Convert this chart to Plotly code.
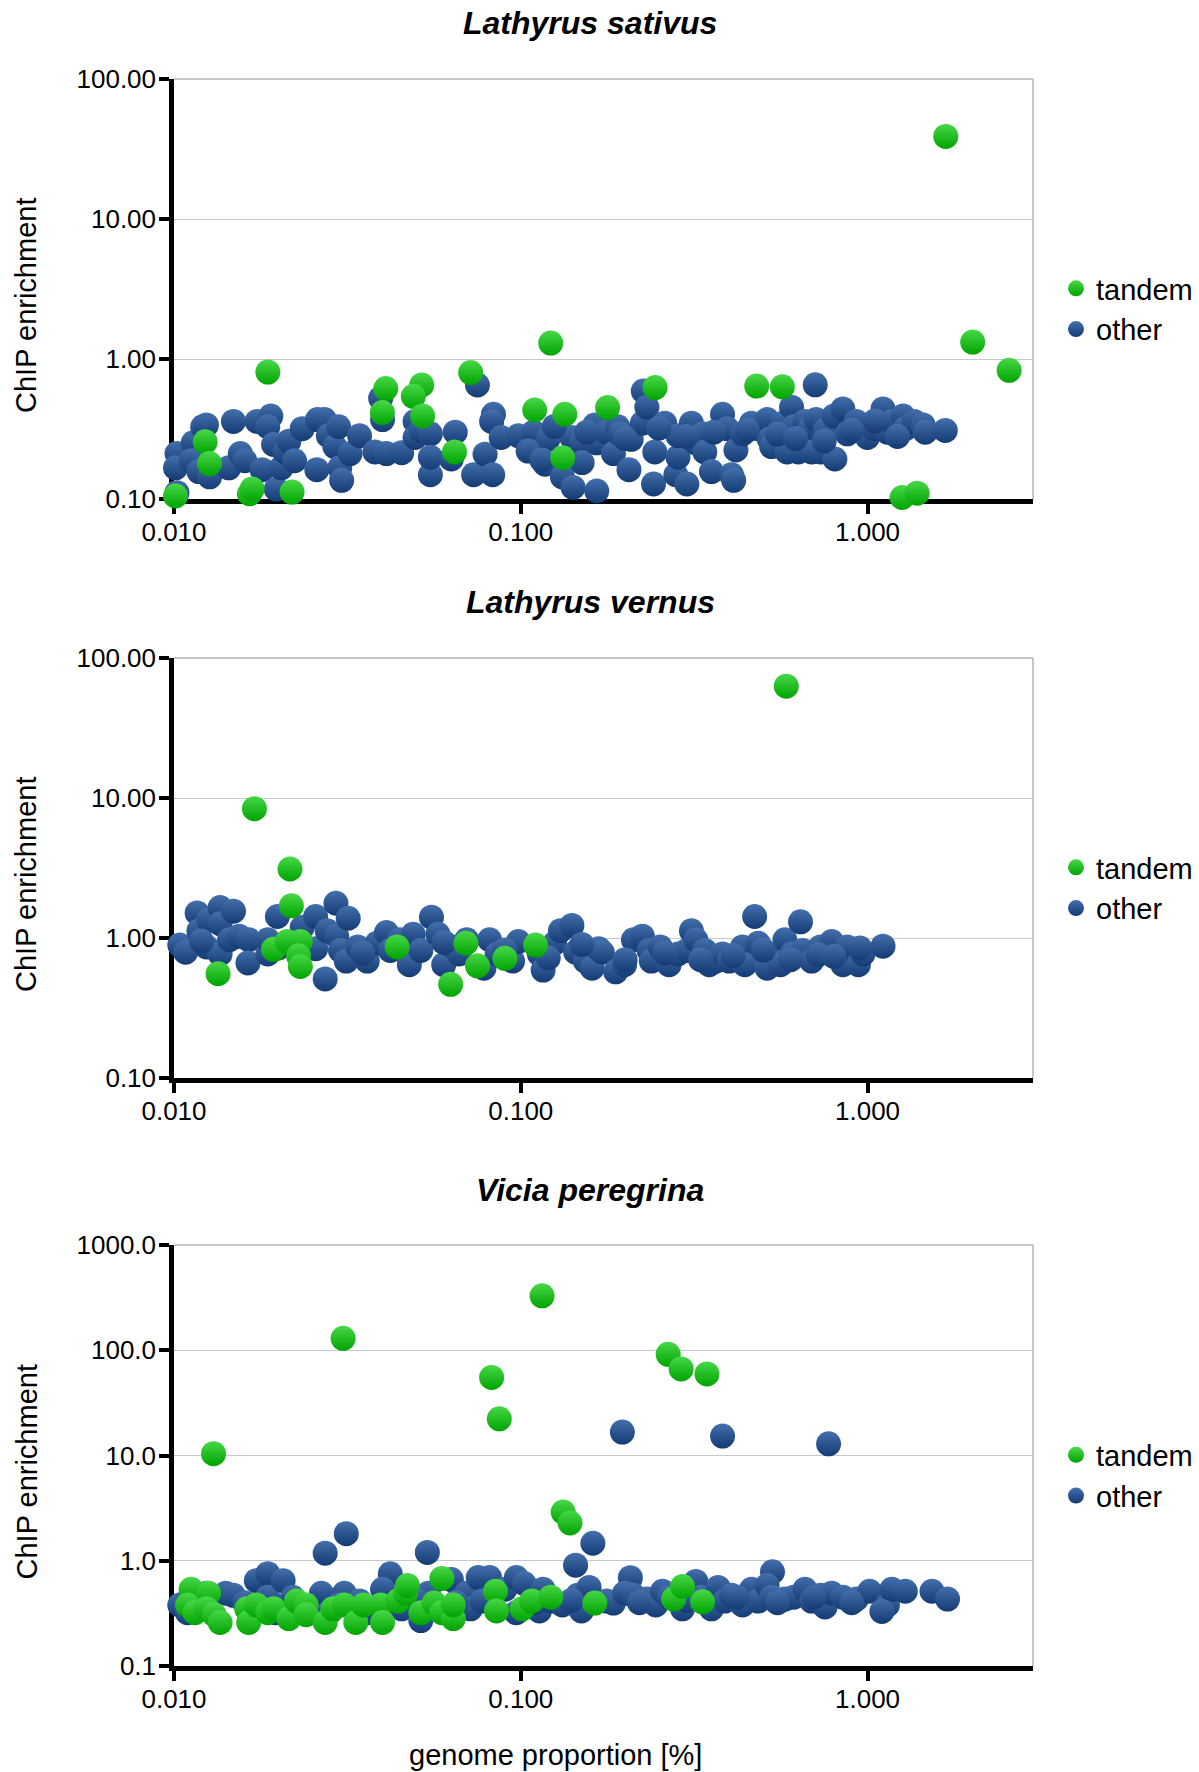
import math
import plotly.graph_objects as go

W, H = 1199, 1772
FONT = "Liberation Sans, Arial, sans-serif"

# ---------------- data ----------------
series_names = ["tandem", "other"]
panel_titles = ["Lathyrus sativus", "Lathyrus vernus", "Vicia peregrina"]
y_axis_title = "ChIP enrichment"
x_axis_title = "genome proportion [%]"

x_tickvals = [0.01, 0.1, 1]
x_ticktext = ["0.010", "0.100", "1.000"]
x_max = 3.0

y_tickvals_a = [0.1, 1, 10, 100]
y_ticktext_a = ["0.10", "1.00", "10.00", "100.00"]
y_tickvals_b = [0.1, 1, 10, 100, 1000]
y_ticktext_b = ["0.1", "1.0", "10.0", "100.0", "1000.0"]

# Lathyrus sativus
sativus_other_x = [
    0.0102, 0.0101, 0.0102, 0.01136, 0.0112, 0.0121, 0.0124, 0.0118, 0.01267, 0.01439,
    0.01484, 0.01553, 0.0160, 0.01736, 0.01795, 0.01902, 0.01864, 0.01937, 0.01972, 0.02038,
    0.0209, 0.02144, 0.02227, 0.02343, 0.02581, 0.02594, 0.02716, 0.02786, 0.02909, 0.02983,
    0.03006, 0.03044, 0.03219, 0.03429, 0.03797, 0.03944, 0.03994, 0.04097, 0.04535, 0.04957,
    0.04957, 0.05149, 0.05487, 0.05487, 0.05487, 0.06308, 0.06471, 0.0731, 0.0750, 0.0789,
    0.0830, 0.0834, 0.0824, 0.0878, 0.0984, 0.1089, 0.1175, 0.1197, 0.1318, 0.1415,
    0.1403, 0.1496, 0.1503, 0.1635, 0.1656, 0.1656,
    0.177, 0.185, 0.1905, 0.1934, 0.2051, 0.2082, 0.2242, 0.2255, 0.2310, 0.2414,
    0.2435, 0.260, 0.280, 0.284, 0.284, 0.3013, 0.3105, 0.3198, 0.3343, 0.3393,
    0.3547, 0.3818, 0.3933, 0.4051, 0.4111, 0.4173, 0.436, 0.4628, 0.4838, 0.5133,
    0.521, 0.5288, 0.569, 0.5861, 0.6038, 0.6128, 0.6313, 0.66, 0.680, 0.690,
    0.7107, 0.732, 0.7066, 0.7543, 0.80, 0.805, 0.849, 0.874, 0.928, 0.999,
    1.044, 1.108, 1.141, 1.175, 1.266, 1.285, 1.363, 1.446, 1.467, 1.676,
    0.125, 0.155, 0.2, 0.25, 0.3, 0.36, 0.45, 0.55, 0.62, 0.75,
    0.9, 1.05, 1.22, 0.105, 0.115,
]
sativus_other_y = [
    0.211, 0.167, 0.111, 0.252, 0.1875, 0.328, 0.338, 0.157, 0.144, 0.167,
    0.358, 0.211, 0.1875, 0.358, 0.162, 0.391, 0.328, 0.245, 0.1175, 0.167,
    0.217, 0.259, 0.1875, 0.318, 0.162, 0.369, 0.369, 0.283, 0.237, 0.328,
    0.167, 0.136, 0.211, 0.283, 0.217, 0.525, 0.369, 0.211, 0.214, 0.358,
    0.275, 0.309, 0.292, 0.149, 0.199, 0.193, 0.300, 0.149, 0.652, 0.209,
    0.149, 0.403, 0.358, 0.275, 0.283, 0.300, 0.177, 0.267, 0.144, 0.121,
    0.275, 0.252, 0.182, 0.338, 0.114, 0.252,
    0.300, 0.211, 0.328, 0.292, 0.162, 0.267, 0.348, 0.590, 0.453, 0.128,
    0.217, 0.348, 0.149, 0.199, 0.283, 0.128, 0.348, 0.252, 0.292, 0.217,
    0.157, 0.403, 0.318, 0.149, 0.136, 0.224, 0.292, 0.348, 0.318, 0.369,
    0.267, 0.237, 0.348, 0.217, 0.453, 0.328, 0.217, 0.358, 0.318, 0.217,
    0.369, 0.217, 0.654, 0.309, 0.391, 0.193, 0.440, 0.292, 0.358, 0.275,
    0.318, 0.440, 0.300, 0.358, 0.391, 0.318, 0.358, 0.338, 0.300, 0.309,
    0.33, 0.30, 0.27, 0.32, 0.28, 0.30, 0.31, 0.29, 0.27, 0.26,
    0.31, 0.36, 0.28, 0.22, 0.19,
]
sativus_tandem_x = [
    0.0101, 0.0123, 0.01265, 0.01865, 0.0165, 0.0168, 0.0219, 0.0408, 0.0399, 0.0518,
    0.049, 0.0521, 0.0644, 0.0717, 0.1097, 0.122, 0.134, 0.132, 0.178, 0.244,
    0.479, 0.568, 1.258, 1.39, 1.681, 2.01, 2.56,
]
sativus_tandem_y = [
    0.105, 0.256, 0.179, 0.806, 0.109, 0.118, 0.112, 0.615, 0.415, 0.652,
    0.541, 0.392, 0.217, 0.80, 0.432, 1.30, 0.403, 0.197, 0.45, 0.625,
    0.641, 0.633, 0.1025, 0.11, 38.9, 1.32, 0.83,
]

# Lathyrus vernus
vernus_other_x = [
    0.01039, 0.0108, 0.01166, 0.0118, 0.01258, 0.0124, 0.01358, 0.01358, 0.01358, 0.01484,
    0.01446, 0.01541, 0.01642, 0.01634, 0.01864, 0.01864, 0.01987, 0.02343, 0.02561, 0.02561,
    0.02764, 0.02729, 0.02931, 0.02945, 0.0302, 0.03139, 0.03179, 0.03386, 0.03608, 0.03847,
    0.04099, 0.04204, 0.04478, 0.04652, 0.04772, 0.04895, 0.05149, 0.05526, 0.05771, 0.05995,
    0.06391, 0.06638, 0.06983, 0.0783, 0.0813, 0.0855, 0.0947, 0.0984, 0.1131, 0.1160,
    0.1252, 0.1301, 0.1404, 0.1440, 0.1535, 0.1606, 0.1677,
    0.1718, 0.1878, 0.1992, 0.2113, 0.2242, 0.2344, 0.2379, 0.2524, 0.2677, 0.284,
    0.3013, 0.3105, 0.3198, 0.3393, 0.3495, 0.3653, 0.3818, 0.3992, 0.436, 0.4426,
    0.4725, 0.4838, 0.5133, 0.5133, 0.561, 0.5776, 0.6038, 0.6407, 0.6503, 0.690,
    0.732, 0.788, 0.849, 0.874, 0.941, 0.970, 1.108,
    0.012, 0.02, 0.035, 0.06, 0.09, 0.12, 0.15, 0.2, 0.26, 0.33,
    0.41, 0.5, 0.6, 0.72, 0.8, 0.95,
]
vernus_other_y = [
    0.890, 0.791, 1.51, 1.126, 1.343, 0.864, 1.649, 1.266, 0.769, 1.555,
    0.972, 1.031, 0.972, 0.664, 0.769, 0.972, 1.424, 1.194, 1.424, 0.839,
    1.126, 0.510, 1.77, 1.031, 0.815, 0.684, 1.383, 0.864, 0.684, 0.917,
    1.093, 0.815, 0.972, 0.791, 0.645, 1.062, 0.815, 1.408, 1.062, 0.645,
    0.864, 0.769, 0.972, 0.608, 0.972, 0.769, 0.684, 0.944, 0.769, 0.590,
    0.917, 1.126, 1.23, 0.791, 0.684, 0.608, 0.839,
    0.791, 0.573, 0.645, 0.972, 1.031, 0.815, 0.684, 0.864, 0.645, 0.769,
    0.815, 1.126, 0.972, 0.815, 0.645, 0.684, 0.769, 0.684, 0.864, 0.645,
    1.424, 0.917, 0.769, 0.608, 0.645, 0.972, 0.769, 1.304, 0.815, 0.684,
    0.864, 0.944, 0.645, 0.864, 0.645, 0.769, 0.874,
    0.95, 0.85, 0.78, 0.93, 0.82, 0.72, 0.90, 0.70, 0.78, 0.70,
    0.75, 0.82, 0.70, 0.76, 0.74, 0.85,
]
vernus_tandem_x = [
    0.01706, 0.0216, 0.0218, 0.0134, 0.01936, 0.0212, 0.02314, 0.02286, 0.02314, 0.04399,
    0.06277, 0.06948, 0.0750, 0.090, 0.1103, 0.583,
]
vernus_tandem_y = [
    8.39, 3.11, 1.70, 0.556, 0.83, 0.944, 0.944, 0.746, 0.626, 0.864,
    0.467, 0.917, 0.633, 0.716, 0.890, 62.9,
]

# Vicia peregrina
peregrina_other_x = [
    0.02729, 0.03139, 0.05377, 0.04204, 0.1614, 0.1439, 0.207, 0.532, 0.1963, 0.3818, 0.772,
    0.01039, 0.01094, 0.0124, 0.01410, 0.01484, 0.01728, 0.01864, 0.01864, 0.01962, 0.02064,
    0.02171, 0.02404, 0.02661, 0.028, 0.03098, 0.0343, 0.03608, 0.03994, 0.04535, 0.05149,
    0.05418, 0.06308, 0.06638, 0.06983, 0.07163, 0.07538, 0.0813, 0.07731, 0.090, 0.0971,
    0.0971, 0.1022, 0.1132, 0.1160, 0.1221, 0.1318, 0.1459, 0.1496, 0.1574,
    0.177, 0.185, 0.1992, 0.2113, 0.2310, 0.2450, 0.2562, 0.2677, 0.2926, 0.3198,
    0.3294, 0.3547, 0.3707, 0.3876, 0.4051, 0.436, 0.4628, 0.4838, 0.5133, 0.5288,
    0.5776, 0.6128, 0.66, 0.690, 0.732, 0.7543, 0.788, 0.849, 0.928, 1.014,
    1.141, 1.175, 1.285, 1.534, 1.701,
    0.011, 0.016, 0.022, 0.03, 0.05, 0.065, 0.11, 0.14, 0.22, 0.3,
    0.42, 0.55, 0.7, 0.9, 1.1,
]
peregrina_other_y = [
    1.18, 1.81, 1.20, 0.752, 1.466, 0.908, 0.690, 0.785, 16.7, 15.3, 12.9,
    0.380, 0.321, 0.491, 0.491, 0.469, 0.647, 0.754, 0.451, 0.321, 0.647,
    0.414, 0.349, 0.491, 0.321, 0.491, 0.414, 0.321, 0.535, 0.349, 0.270,
    0.491, 0.662, 0.414, 0.491, 0.349, 0.692, 0.692, 0.414, 0.535, 0.692,
    0.321, 0.608, 0.334, 0.535, 0.414, 0.380, 0.469, 0.334, 0.558,
    0.414, 0.396, 0.491, 0.469, 0.432, 0.380, 0.513, 0.451, 0.349, 0.636,
    0.451, 0.349, 0.558, 0.414, 0.469, 0.380, 0.535, 0.414, 0.582, 0.451,
    0.432, 0.451, 0.535, 0.414, 0.469, 0.364, 0.491, 0.451, 0.432, 0.513,
    0.380, 0.535, 0.513, 0.513, 0.432,
    0.42, 0.40, 0.45, 0.38, 0.42, 0.40, 0.40, 0.42, 0.40, 0.42,
    0.45, 0.40, 0.45, 0.40, 0.33,
]
peregrina_tandem_x = [
    0.0130, 0.03074, 0.0824, 0.0867, 0.1152, 0.1325, 0.1387, 0.2661, 0.290, 0.3443,
    0.0112, 0.01094, 0.0115, 0.01258, 0.0124, 0.01306, 0.01358, 0.01621, 0.01642, 0.01728,
    0.01864, 0.01937, 0.02144, 0.02256, 0.02404, 0.02404, 0.02729, 0.02871, 0.03098, 0.03344,
    0.03518, 0.03944, 0.03994, 0.04422, 0.04652, 0.04712, 0.05149, 0.05627, 0.05922, 0.05922,
    0.06391, 0.06391, 0.0845, 0.0851, 0.1009, 0.1075, 0.1221, 0.1635,
    0.2758, 0.2926, 0.3343,
]
peregrina_tandem_y = [
    10.4, 129.7, 55.2, 22.3, 328.9, 2.90, 2.29, 91.4, 66.5, 59.6,
    0.535, 0.380, 0.321, 0.491, 0.349, 0.307, 0.259, 0.349, 0.259, 0.380,
    0.321, 0.349, 0.282, 0.414, 0.380, 0.307, 0.259, 0.349, 0.380, 0.259,
    0.380, 0.380, 0.259, 0.414, 0.491, 0.582, 0.321, 0.396, 0.321, 0.679,
    0.282, 0.380, 0.513, 0.334, 0.349, 0.414, 0.451, 0.396,
    0.432, 0.569, 0.407,
]

# ---------------- styling / layout ----------------
BLUE_TOP, BLUE_BOT = "#4470ad", "#133a73"
GREEN_TOP, GREEN_BOT = "#48d848", "#00a300"
MSIZE = 25

PLOT_L, PLOT_R = 174, 1033
panels = [
    dict(title=panel_titles[0], other=(sativus_other_x, sativus_other_y),
         tandem=(sativus_tandem_x, sativus_tandem_y),
         tv=y_tickvals_a, tt=y_ticktext_a, top=79, bot=499, title_y=23),
    dict(title=panel_titles[1], other=(vernus_other_x, vernus_other_y),
         tandem=(vernus_tandem_x, vernus_tandem_y),
         tv=y_tickvals_a, tt=y_ticktext_a, top=658, bot=1078, title_y=602),
    dict(title=panel_titles[2], other=(peregrina_other_x, peregrina_other_y),
         tandem=(peregrina_tandem_x, peregrina_tandem_y),
         tv=y_tickvals_b, tt=y_ticktext_b, top=1245, bot=1666, title_y=1190),
]


def px_x(p):
    return p / W


def px_y(p):
    return 1 - p / H


fig = go.Figure()
annotations = []
shapes = []
layout_axes = {}

for i, p in enumerate(panels):
    n = i + 1
    sfx = "" if n == 1 else str(n)
    xa, ya = "x" + sfx, "y" + sfx
    lg = "legend" + sfx

    fig.add_trace(go.Scatter(
        x=p["other"][0], y=p["other"][1], mode="markers", name=series_names[1],
        xaxis=xa, yaxis=ya, legend=lg, legendrank=2, cliponaxis=False,
        marker=dict(size=MSIZE, color=BLUE_TOP, line=dict(width=0),
                    gradient=dict(type="vertical", color=BLUE_BOT)),
    ))
    fig.add_trace(go.Scatter(
        x=p["tandem"][0], y=p["tandem"][1], mode="markers", name=series_names[0],
        xaxis=xa, yaxis=ya, legend=lg, legendrank=1, cliponaxis=False,
        marker=dict(size=MSIZE, color=GREEN_TOP, line=dict(width=0),
                    gradient=dict(type="vertical", color=GREEN_BOT)),
    ))

    ymin_log = math.log10(p["tv"][0])
    ymax_log = math.log10(p["tv"][-1])

    layout_axes["xaxis" + sfx] = dict(
        type="log", range=[math.log10(x_tickvals[0]), math.log10(x_max)],
        domain=[px_x(PLOT_L), px_x(PLOT_R)], anchor=ya,
        tickvals=x_tickvals, ticktext=x_ticktext,
        showline=True, linecolor="black", linewidth=4.5,
        ticks="outside", ticklen=10, tickwidth=4, tickcolor="black",
        showgrid=False, zeroline=False, layer="below traces",
        tickfont=dict(family=FONT, size=26, color="black"),
        ticklabelstandoff=-4, automargin=False,
    )
    layout_axes["yaxis" + sfx] = dict(
        type="log", range=[ymin_log, ymax_log],
        domain=[px_y(p["bot"]), px_y(p["top"])], anchor=xa,
        tickvals=p["tv"], ticktext=p["tt"],
        showline=True, linecolor="black", linewidth=4.5,
        ticks="outside", ticklen=10, tickwidth=4, tickcolor="black",
        showgrid=True, gridcolor="#c8c8c8", gridwidth=1.3,
        zeroline=False, layer="below traces",
        tickfont=dict(family=FONT, size=26, color="black"),
        ticklabelstandoff=-2, automargin=False,
    )

    # top and right frame lines
    shapes.append(dict(type="line", xref=xa + " domain", yref=ya + " domain",
                       x0=0, x1=1, y0=1, y1=1, layer="below",
                       line=dict(color="#b4b4b4", width=1.5)))
    shapes.append(dict(type="line", xref=xa + " domain", yref=ya + " domain",
                       x0=1, x1=1, y0=0, y1=1, layer="below",
                       line=dict(color="#b4b4b4", width=1.5)))

    # panel title
    annotations.append(dict(
        text="<b><i>%s</i></b>" % p["title"], xref="paper", yref="paper",
        x=px_x(590), y=px_y(p["title_y"]), xanchor="center", yanchor="middle",
        showarrow=False, font=dict(family=FONT, size=32, color="black")))
    # y axis title
    annotations.append(dict(
        text=y_axis_title, xref="paper", yref="paper", textangle=-90,
        x=px_x(26), y=px_y((p["top"] + p["bot"]) / 2 + 17),
        xanchor="center", yanchor="middle", showarrow=False,
        font=dict(family=FONT, size=29, color="black")))

    layout_axes[lg] = dict(
        x=px_x(1056), y=px_y((p["top"] + p["bot"]) / 2 + 20),
        xanchor="left", yanchor="middle", bgcolor="rgba(0,0,0,0)",
        font=dict(family=FONT, size=29, color="black"),
        itemsizing="trace", tracegroupgap=0,
    )

annotations.append(dict(
    text=x_axis_title, xref="paper", yref="paper",
    x=px_x(555), y=px_y(1755), xanchor="center", yanchor="middle",
    showarrow=False, font=dict(family=FONT, size=29, color="black")))

fig.update_layout(
    width=W, height=H,
    margin=dict(l=0, r=0, t=0, b=0, pad=0, autoexpand=False),
    paper_bgcolor="white", plot_bgcolor="white",
    showlegend=True,
    annotations=annotations, shapes=shapes,
    font=dict(family=FONT, color="black"),
    **layout_axes,
)

fig.write_html(
    "out.html",
    config={"displayModeBar": False},
    post_script="document.body.style.margin='0';document.body.style.overflow='hidden';",
)
